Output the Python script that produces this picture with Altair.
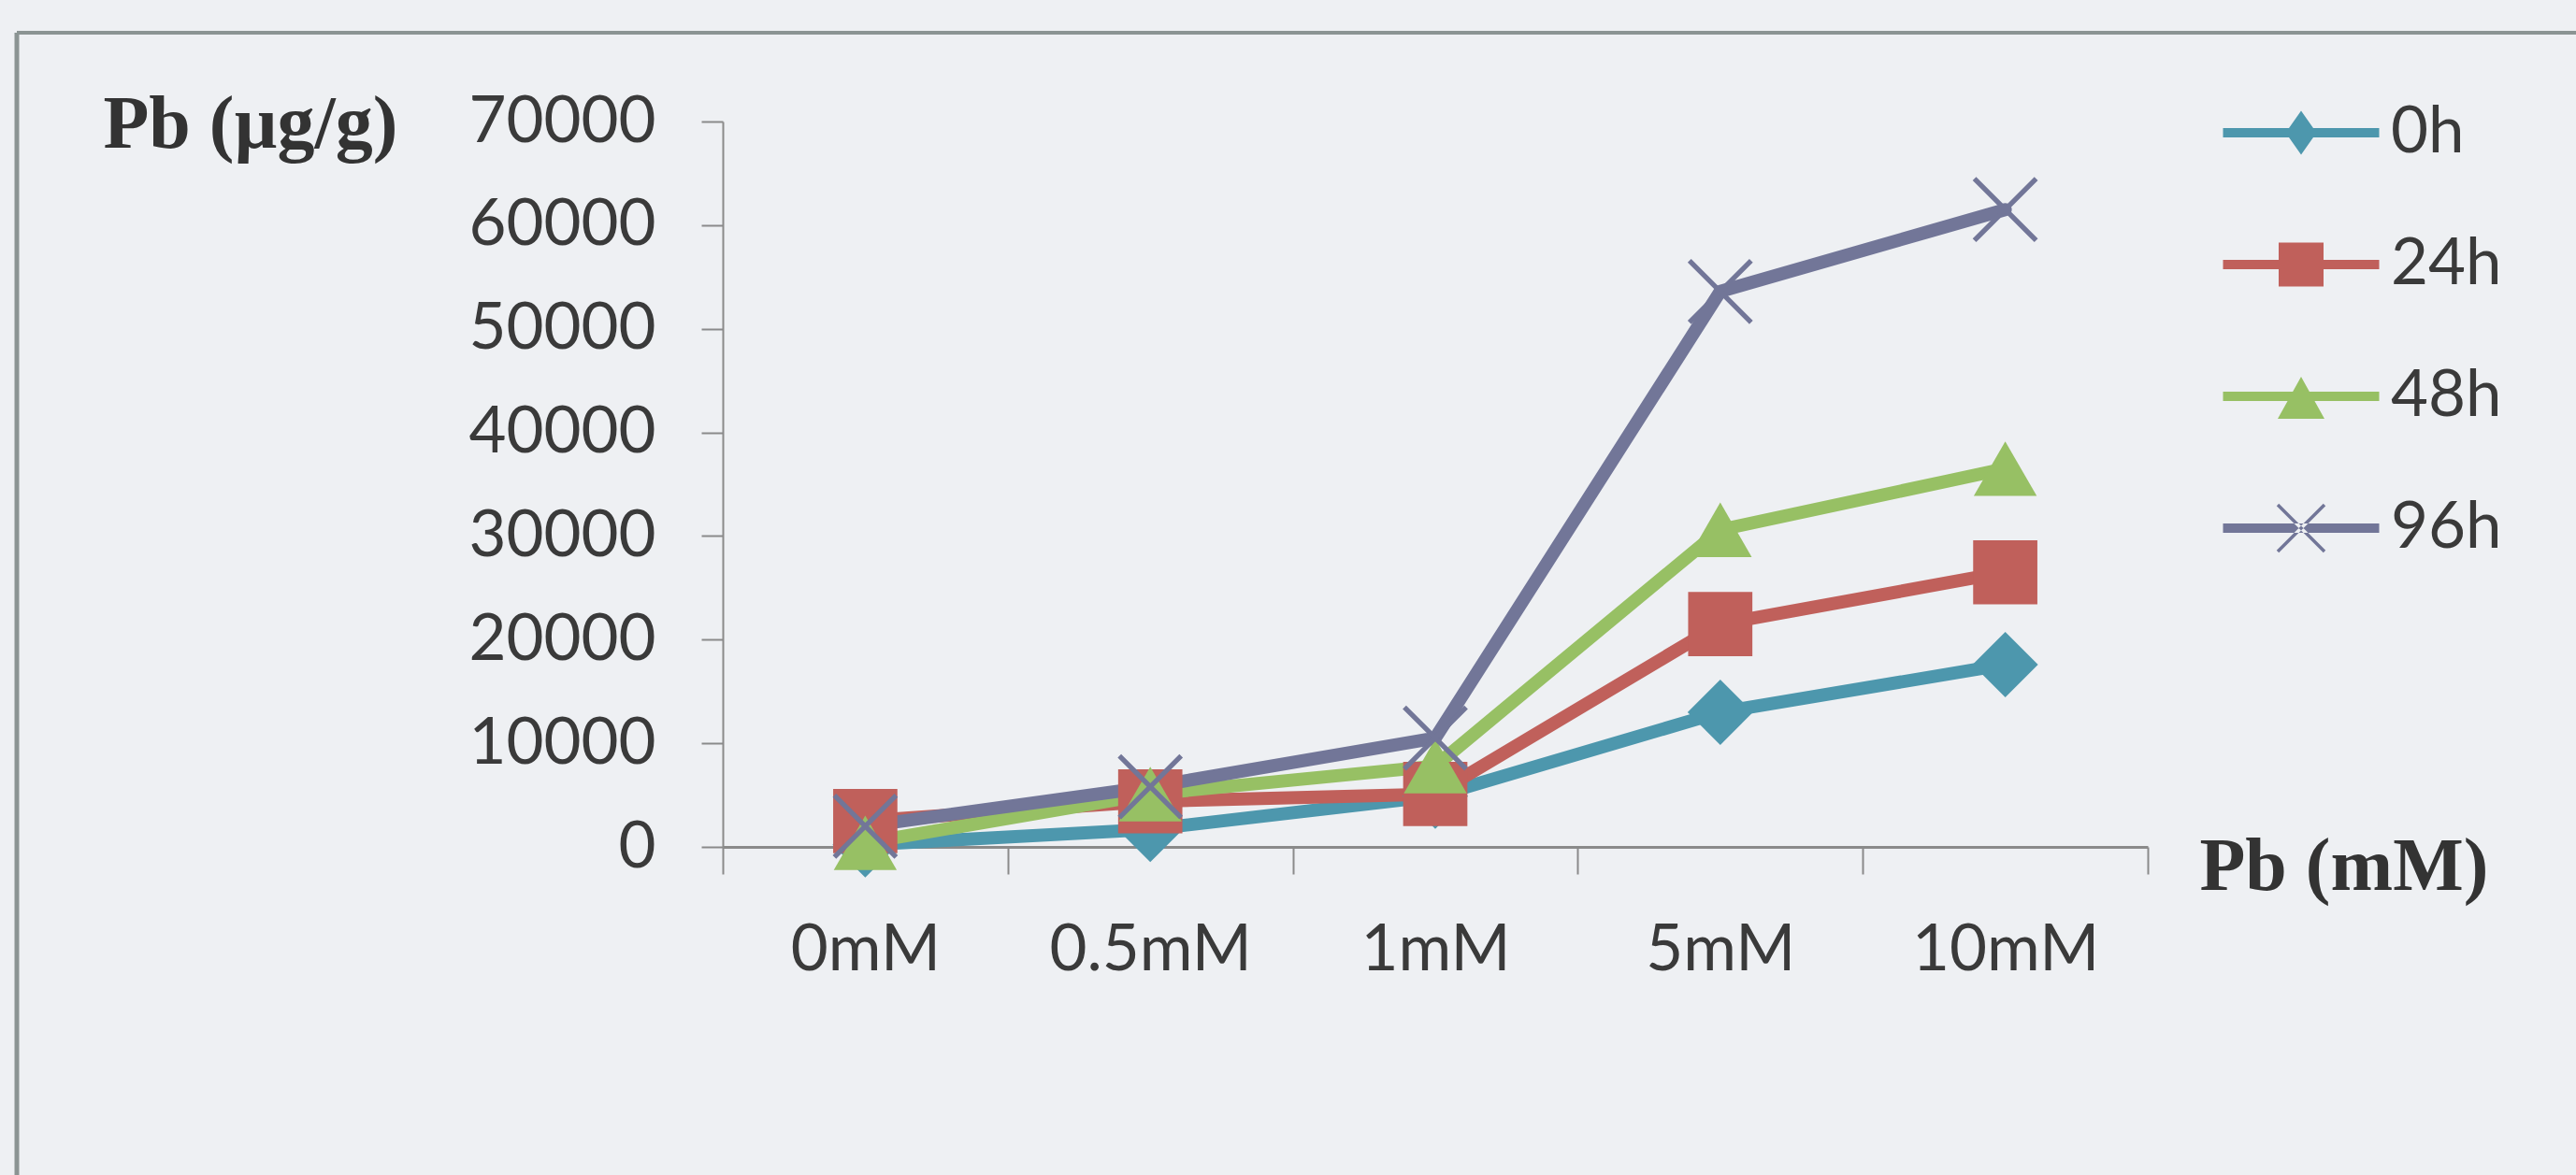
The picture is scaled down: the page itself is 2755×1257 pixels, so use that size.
import math
import altair as alt
import pandas as pd

# Lead content (µg/g) by treatment concentration and exposure time
concentrations = ["0mM", "0.5mM", "1mM", "5mM", "10mM"]
series_names = ["0h", "24h", "48h", "96h"]
pb_0h = [200, 1700, 4900, 13000, 17600]
pb_24h = [2500, 4400, 5100, 21500, 26500]
pb_48h = [400, 5100, 7800, 30600, 36500]
pb_96h = [2000, 5800, 10500, 53600, 61500]
y_ticks = [0, 10000, 20000, 30000, 40000, 50000, 60000, 70000]
series_colors = ["#4d97ad", "#c0605b", "#97c064", "#727698"]

rows = []
for name, vals in zip(series_names, [pb_0h, pb_24h, pb_48h, pb_96h]):
    for conc, v in zip(concentrations, vals):
        rows.append({"conc": conc, "series": name, "pb": v})
df = pd.DataFrame(rows)

# layout of the plotting rectangle inside the 2755 x 1257 page
W, H = 1524, 776
LEFT, TOP = 773, 130
PAGE_W, PAGE_H = 2755, 1257

TEXT = "#3a3a3a"
AXIS = "#8a8a8a"
BG = "#eef0f3"
FRAME = "#8b9493"


def fmt(v):
    return f"{v:.3f}".rstrip("0").rstrip(".")


def poly(points):
    return "M" + "L".join(f"{fmt(x)},{fmt(y)}" for x, y in points) + "Z"


def x_path(half, t):
    """Two thin diagonal bars forming an X, filled (same winding)."""
    a = t / math.sqrt(2)
    r1 = [(-half - a, -half + a), (half - a, half + a), (half + a, half - a), (-half + a, -half - a)]
    r2 = [(-half + a, half + a), (half + a, -half + a), (half - a, -half - a), (-half - a, half - a)]
    return poly(r1) + poly(r2)


# marker shapes used on the plotted points
X_MARK = x_path(1.0, 0.08)
point_shapes = ["diamond", "square", "triangle-up", X_MARK]
point_sizes = [4900, 4356, 5329, 4356]

# legend symbols: a line segment with the series marker on it
# (symbol units: 1 unit = 50 px for a symbol size of 10000)
L = 1.67
lw = 0.1
bar = poly([(-L, -lw), (L, -lw), (L, lw), (-L, lw)])
legend_shapes = [
    bar + poly([(-0.33, 0), (0, -0.47), (0.33, 0), (0, 0.47)]),
    bar + poly([(-0.48, -0.47), (0.48, -0.47), (0.48, 0.47), (-0.48, 0.47)]),
    bar + poly([(0, -0.42), (0.5, 0.48), (-0.5, 0.48)]),
    bar + x_path(0.5, 0.035),
]

axis_common = dict(
    labelFont="Lato",
    labelFontSize=69,
    labelColor=TEXT,
    labelLimit=1000,
    titleFont="Liberation Serif",
    titleFontWeight="bold",
    titleFontSize=80,
    titleColor="#333333",
    titleAngle=0,
    titleAlign="left",
    titleBaseline="alphabetic",
    tickColor=AXIS,
    tickWidth=2,
    domainColor=AXIS,
    grid=False,
)

x_enc = alt.X(
    "conc:N",
    sort=concentrations,
    bandPosition=0.5,
    scale=alt.Scale(type="band", paddingInner=0, paddingOuter=0),
    axis=alt.Axis(
        title="Pb (mM)",
        titleX=2352 - LEFT,
        titleY=45,
        labelAngle=0,
        labelBaseline="alphabetic",
        labelPadding=102,
        tickBand="extent",
        tickSize=29,
        domainWidth=3,
        **axis_common,
    ),
)

y_enc = alt.Y(
    "pb:Q",
    scale=alt.Scale(domain=[0, 70000], nice=False),
    axis=alt.Axis(
        values=y_ticks,
        format="d",
        title="Pb (µg/g)",
        titleX=110 - LEFT,
        titleY=27,
        labelPadding=49,
        tickSize=23,
        domainWidth=2,
        **axis_common,
    ),
)

color_plain = alt.Color(
    "series:N",
    sort=series_names,
    scale=alt.Scale(domain=series_names, range=series_colors),
    legend=None,
)

base = alt.Chart(df)

lines = base.mark_line(strokeWidth=14, strokeJoin="round", strokeCap="round").encode(
    x=x_enc, y=y_enc, color=color_plain, detail="series:N"
)

points = base.mark_point(filled=True, opacity=1).encode(
    x=x_enc,
    y=y_enc,
    color=color_plain,
    shape=alt.Shape(
        "series:N",
        sort=series_names,
        scale=alt.Scale(domain=series_names, range=point_shapes),
        legend=None,
    ),
    size=alt.Size(
        "series:N",
        sort=series_names,
        scale=alt.Scale(domain=series_names, range=point_sizes),
        legend=None,
    ),
)

legend_spec = alt.Legend(
    title=None,
    orient="none",
    legendX=2461 - LEFT - 50,
    legendY=142 - TOP - 50,
    symbolSize=10000,
    symbolStrokeWidth=0,
    symbolOpacity=1,
    labelFont="Lato",
    labelFontSize=69,
    labelColor=TEXT,
    labelOffset=46,
    rowPadding=56,
    padding=0,
)

legend_layer = base.mark_point(filled=True, opacity=0).encode(
    x=x_enc,
    y=y_enc,
    color=alt.Color(
        "series:N",
        sort=series_names,
        scale=alt.Scale(domain=series_names, range=series_colors),
        legend=legend_spec,
    ),
    shape=alt.Shape(
        "series:N",
        sort=series_names,
        scale=alt.Scale(domain=series_names, range=legend_shapes),
        legend=legend_spec,
    ),
)

# outer frame: top and left edges of the chart border
frame_df = pd.DataFrame({"edge": ["frame"]})
frame_top = alt.Chart(frame_df).mark_rule(color=FRAME, strokeWidth=4).encode(
    x=alt.value(18 - LEFT), x2=alt.value(PAGE_W - LEFT + 10), y=alt.value(35 - TOP)
)
frame_left = alt.Chart(frame_df).mark_rule(color=FRAME, strokeWidth=5).encode(
    x=alt.value(18 - LEFT), y=alt.value(35 - TOP), y2=alt.value(PAGE_H - TOP + 10)
)

chart = (
    alt.layer(frame_top, frame_left, lines, points, legend_layer)
    .resolve_scale(color="independent", shape="independent", size="independent")
    .properties(
        width=W,
        height=H,
        autosize=alt.AutoSizeParams(type="none"),
        padding={"left": LEFT, "top": TOP, "right": PAGE_W - LEFT - W, "bottom": PAGE_H - TOP - H},
        background=BG,
    )
    .configure_view(strokeWidth=0)
)

chart.save("out.html", embed_options={"renderer": "svg", "actions": False})
